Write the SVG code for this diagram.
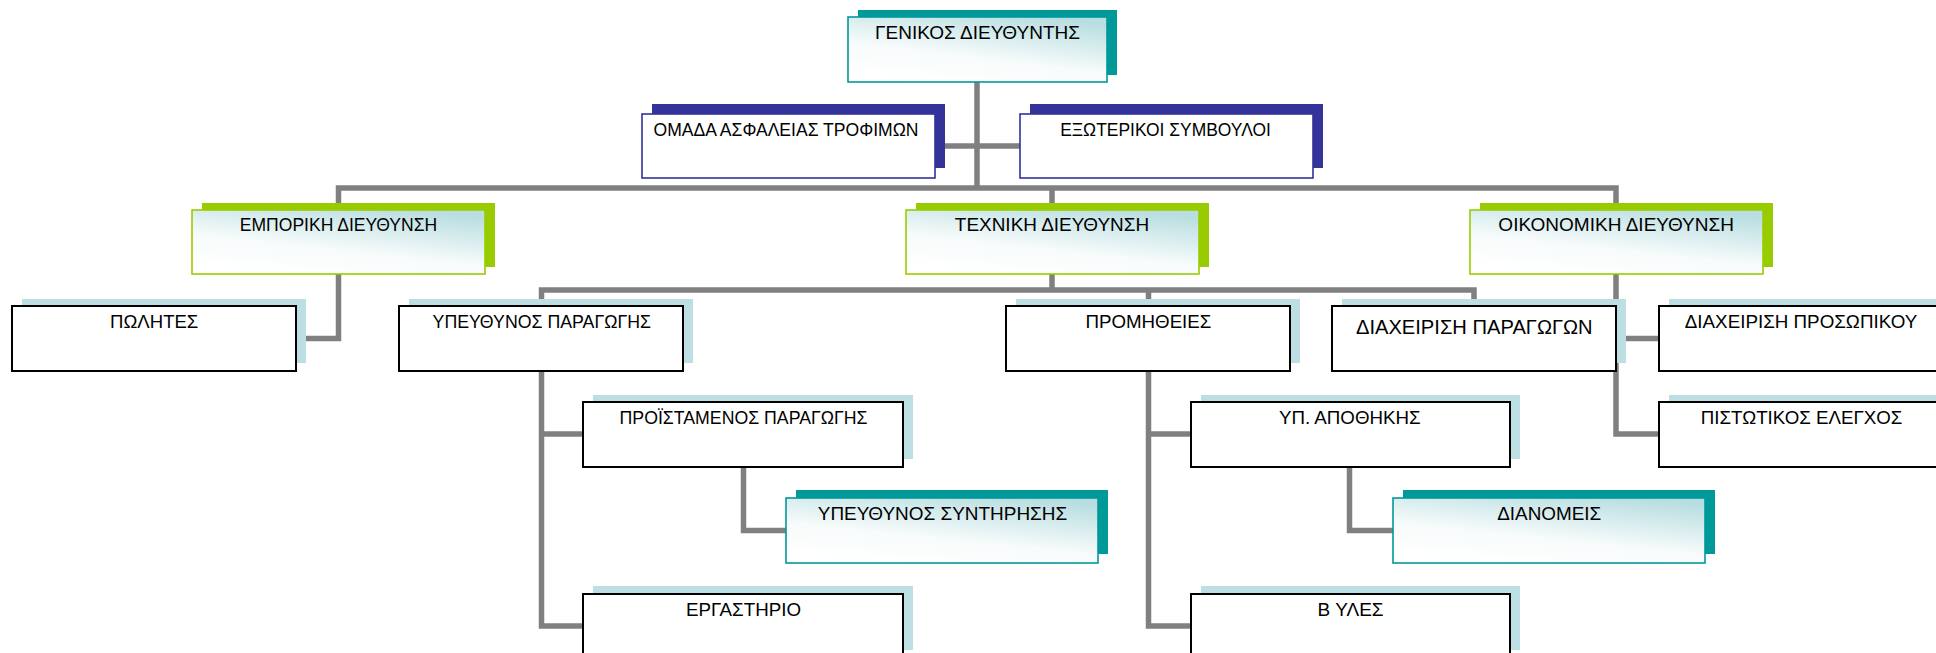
<svg xmlns="http://www.w3.org/2000/svg" width="1936" height="653" viewBox="0 0 1936 653">
<defs>
<linearGradient id="grad" x1="0.25" y1="1" x2="0.75" y2="0">
<stop offset="0" stop-color="#ffffff"/>
<stop offset="0.4" stop-color="#f7fbfb"/>
<stop offset="1" stop-color="#b9dee1"/>
</linearGradient>
<style>
.conn{fill:none;stroke:#808080;stroke-width:5.5;stroke-linejoin:miter}
.t{font-family:"Liberation Sans",Arial,sans-serif;font-size:18.7px;fill:#000;text-anchor:middle}
.shT{fill:#009999}.shN{fill:#333399}.shG{fill:#99cc00}.shL{fill:#bddfe3}
.bT{fill:url(#grad);stroke:#009999;stroke-width:1.6}
.bN{fill:#fff;stroke:#333399;stroke-width:1.6}
.bG{fill:url(#grad);stroke:#99cc00;stroke-width:1.6}
.bK{fill:#fff;stroke:#000;stroke-width:2}
</style>
</defs>
<rect width="1936" height="653" fill="#fff"/>
<g id="connectors">
<path class="conn" d="M977,82 V188"/>
<path class="conn" d="M935,146 H1020"/>
<path class="conn" d="M296,338.5 H338.5 V188 H1616 V434 H1659"/>
<path class="conn" d="M1616,338.5 H1659"/>
<path class="conn" d="M1052,188 V290"/>
<path class="conn" d="M583,626 H541.5 V290 H1474 V306"/>
<path class="conn" d="M541.5,434 H583"/>
<path class="conn" d="M743.5,467 V530.5 H786"/>
<path class="conn" d="M1191,626 H1148.5 V290"/>
<path class="conn" d="M1148.5,434 H1191"/>
<path class="conn" d="M1349.5,467 V530.5 H1393"/>
</g>
<g id="n-genikos"><rect class="shT" x="858" y="10" width="259" height="65"/><rect class="bT" x="848" y="17" width="259" height="65"/><text class="t" x="977.5" y="38.5" textLength="205" lengthAdjust="spacingAndGlyphs">ΓΕΝΙΚΟΣ ΔΙΕΥΘΥΝΤΗΣ</text></g>
<g id="n-omada"><rect class="shN" x="652" y="104" width="293" height="64"/><rect class="bN" x="642" y="114" width="293" height="64"/><text class="t" x="786" y="135.8" textLength="265" lengthAdjust="spacingAndGlyphs">ΟΜΑΔΑ ΑΣΦΑΛΕΙΑΣ ΤΡΟΦΙΜΩΝ</text></g>
<g id="n-exoterikoi"><rect class="shN" x="1030" y="104" width="293" height="64"/><rect class="bN" x="1020" y="114" width="293" height="64"/><text class="t" x="1165.5" y="135.8" textLength="210.7" lengthAdjust="spacingAndGlyphs">ΕΞΩΤΕΡΙΚΟΙ ΣΥΜΒΟΥΛΟΙ</text></g>
<g id="n-emporiki"><rect class="shG" x="202" y="203" width="293" height="64"/><rect class="bG" x="192" y="210" width="293" height="64"/><text class="t" x="338.5" y="231.3" textLength="197.4" lengthAdjust="spacingAndGlyphs">ΕΜΠΟΡΙΚΗ ΔΙΕΥΘΥΝΣΗ</text></g>
<g id="n-texniki"><rect class="shG" x="916" y="203" width="293" height="64"/><rect class="bG" x="906" y="210" width="293" height="64"/><text class="t" x="1052" y="231.3" textLength="194.3" lengthAdjust="spacingAndGlyphs">ΤΕΧΝΙΚΗ ΔΙΕΥΘΥΝΣΗ</text></g>
<g id="n-oikonomiki"><rect class="shG" x="1480" y="203" width="293" height="64"/><rect class="bG" x="1470" y="210" width="293" height="64"/><text class="t" x="1616.2" y="231.3" textLength="235.7" lengthAdjust="spacingAndGlyphs">ΟΙΚΟΝΟΜΙΚΗ ΔΙΕΥΘΥΝΣΗ</text></g>
<g id="n-polites"><rect class="shL" x="22" y="299" width="284" height="64"/><rect class="bK" x="12" y="306" width="284" height="65"/><text class="t" x="154.2" y="327.5" textLength="88.3" lengthAdjust="spacingAndGlyphs">ΠΩΛΗΤΕΣ</text></g>
<g id="n-ypeuthinos-paragogis"><rect class="shL" x="409" y="299" width="284" height="64"/><rect class="bK" x="399" y="306" width="284" height="65"/><text class="t" x="541.8" y="327.5" textLength="218.5" lengthAdjust="spacingAndGlyphs">ΥΠΕΥΘΥΝΟΣ ΠΑΡΑΓΩΓΗΣ</text></g>
<g id="n-promitheies"><rect class="shL" x="1016" y="299" width="284" height="64"/><rect class="bK" x="1006" y="306" width="284" height="65"/><text class="t" x="1148.4" y="327.5" textLength="126" lengthAdjust="spacingAndGlyphs">ΠΡΟΜΗΘΕΙΕΣ</text></g>
<g id="n-diax-paragogon"><rect class="shL" x="1342" y="299" width="284" height="64"/><rect class="bK" x="1332" y="306" width="284" height="65"/><text class="t" x="1474.3" y="334.3" style="font-size:20px" textLength="236.7" lengthAdjust="spacingAndGlyphs">ΔΙΑΧΕΙΡΙΣΗ ΠΑΡΑΓΩΓΩΝ</text></g>
<g id="n-diax-prosopikou"><rect class="shL" x="1669" y="299" width="284" height="64"/><rect class="bK" x="1659" y="306" width="284" height="65"/><text class="t" x="1801" y="327.5" textLength="232.4" lengthAdjust="spacingAndGlyphs">ΔΙΑΧΕΙΡΙΣΗ ΠΡΟΣΩΠΙΚΟΥ</text></g>
<g id="n-pistotikos"><rect class="shL" x="1669" y="395" width="284" height="64"/><rect class="bK" x="1659" y="402" width="284" height="65"/><text class="t" x="1801.6" y="423.8" textLength="201.5" lengthAdjust="spacingAndGlyphs">ΠΙΣΤΩΤΙΚΟΣ ΕΛΕΓΧΟΣ</text></g>
<g id="n-proistamenos"><rect class="shL" x="593" y="395" width="320" height="64"/><rect class="bK" x="583" y="402" width="320" height="65"/><text class="t" x="743.5" y="423.8" textLength="247.9" lengthAdjust="spacingAndGlyphs">ΠΡΟΪΣΤΑΜΕΝΟΣ ΠΑΡΑΓΩΓΗΣ</text></g>
<g id="n-ypapothikis"><rect class="shL" x="1201" y="395" width="319" height="64"/><rect class="bK" x="1191" y="402" width="319" height="65"/><text class="t" x="1349.8" y="424.3" textLength="141.7" lengthAdjust="spacingAndGlyphs">ΥΠ. ΑΠΟΘΗΚΗΣ</text></g>
<g id="n-syntirisis"><rect class="shT" x="796" y="490" width="312" height="64"/><rect class="bT" x="786" y="498" width="312" height="65"/><text class="t" x="942.5" y="519.7" textLength="249.5" lengthAdjust="spacingAndGlyphs">ΥΠΕΥΘΥΝΟΣ ΣΥΝΤΗΡΗΣΗΣ</text></g>
<g id="n-dianomeis"><rect class="shT" x="1403" y="490" width="312" height="64"/><rect class="bT" x="1393" y="498" width="312" height="65"/><text class="t" x="1549.2" y="519.7" textLength="104" lengthAdjust="spacingAndGlyphs">ΔΙΑΝΟΜΕΙΣ</text></g>
<g id="n-ergastirio"><rect class="shL" x="593" y="586" width="320" height="64"/><rect class="bK" x="583" y="594" width="320" height="65"/><text class="t" x="743.5" y="615.5" textLength="115" lengthAdjust="spacingAndGlyphs">ΕΡΓΑΣΤΗΡΙΟ</text></g>
<g id="n-vyles"><rect class="shL" x="1201" y="586" width="319" height="64"/><rect class="bK" x="1191" y="594" width="319" height="65"/><text class="t" x="1350.6" y="615.5" textLength="66" lengthAdjust="spacingAndGlyphs">Β ΥΛΕΣ</text></g>
</svg>
